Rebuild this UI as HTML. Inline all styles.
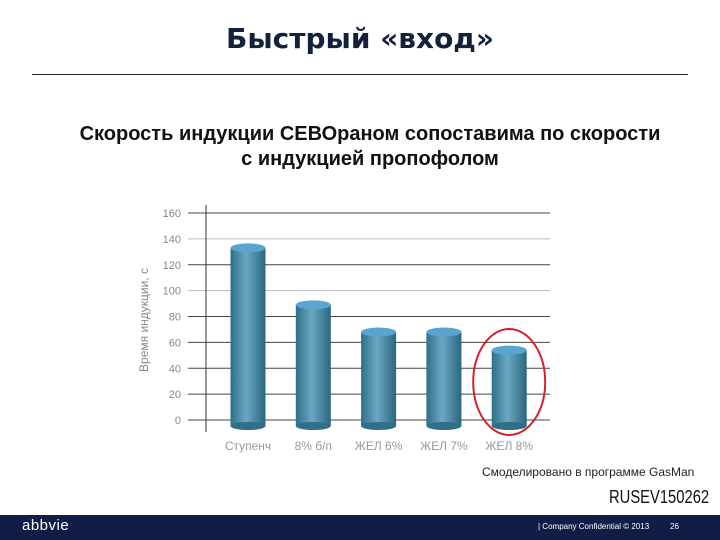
<!DOCTYPE html>
<html><head><meta charset="utf-8"><style>
body{margin:0;width:720px;height:540px;position:relative;background:#fff;font-family:"Liberation Sans",sans-serif;overflow:hidden}
.abs{position:absolute}
</style></head><body>
<div class="abs" style="left:0;width:720px;top:22px;text-align:center;font-size:28px;font-weight:bold;color:#14213d;font-family:'DejaVu Sans','Liberation Sans',sans-serif">Быстрый «вход»</div>
<div class="abs" style="left:32px;top:74px;width:656px;height:1px;background:#222"></div>
<div class="abs" style="left:0;width:740px;top:122px;text-align:center;font-size:20px;font-weight:bold;line-height:25px;color:#111">Скорость индукции СЕВОраном сопоставима по скорости<br>с индукцией пропофолом</div>
<svg class="abs" style="left:0;top:0" width="720" height="540">
<defs>
<linearGradient id="cyl" x1="0" x2="1" y1="0" y2="0">
<stop offset="0" stop-color="#2f6f88"/><stop offset="0.45" stop-color="#6aa8c2"/><stop offset="1" stop-color="#2a6680"/>
</linearGradient>
</defs>
<g id="grid"></g><g id="bars"></g>
</svg>
<div class="abs" style="left:482px;top:465px;font-size:12px;color:#222">Смоделировано в программе GasMan</div>
<div class="abs" style="left:609px;top:487px;font-size:18px;color:#111;transform:scaleX(0.82);transform-origin:left top;white-space:nowrap">RUSEV150262</div>
<div class="abs" style="left:0;top:515px;width:720px;height:25px;background:#0f1d47"></div>
<div class="abs" style="left:22px;top:517px;font-size:15px;color:#fff;letter-spacing:0.5px">abbvie</div>
<div class="abs" style="left:538px;top:522px;font-size:8px;color:#fff">| Company Confidential © 2013</div>
<div class="abs" style="left:670px;top:522px;font-size:8px;color:#fff">26</div>
<script>
const categories=["Ступенч","8% б/п","ЖЕЛ 6%","ЖЕЛ 7%","ЖЕЛ 8%"];
const values=[133,89,68,68,54];
const ticks=[0,20,40,60,80,100,120,140,160];
const NS="http://www.w3.org/2000/svg";
const y0=420,y1=213,vmax=160;
const yScale=v=>y0-(v/vmax)*(y0-y1);
const xScale=i=>248+i*65.3;
const grid=document.getElementById('grid'),bars=document.getElementById('bars');
function mk(t,a,p){const e=document.createElementNS(NS,t);for(const k in a)e.setAttribute(k,a[k]);p.appendChild(e);return e;}
ticks.forEach(t=>{
 const y=yScale(t);
 const l=mk('line',{x1:188,x2:550,y1:y,y2:y,stroke:(t==140||t==100)?'#bbb':'#444','stroke-width':1},grid);
 
 
 const tx=mk('text',{x:181,y:y+4,'text-anchor':'end','font-size':11,fill:'#888','font-family':'Liberation Sans'},grid);
 tx.textContent=t;
 
 
});
const ax=mk('line',{x1:206,x2:206,y1:205,y2:432,stroke:'#333','stroke-width':1},grid);


const yt=mk('text',{x:0,y:0,transform:'translate(148,320) rotate(-90)','text-anchor':'middle','font-size':12,fill:'#888','font-family':'Liberation Sans'},grid);
yt.textContent='Время индукции, с';


values.forEach((v,i)=>{
 const cx=xScale(i),w=35,top=yScale(v),bot=426;
 const g=mk('g',{},bars);
 
 
 mk('rect',{x:cx-w/2,y:top,width:w,height:bot-top,fill:'url(#cyl)'},g);
 mk('ellipse',{cx:cx,cy:bot,rx:w/2,ry:4,fill:'#2f6f88'},g);
 mk('ellipse',{cx:cx,cy:top,rx:w/2,ry:4.5,fill:'#5aa5cf'},g);
 const lb=mk('text',{x:cx,y:450,'text-anchor':'middle','font-size':12,fill:'#999','font-family':'Liberation Sans'},bars);
 lb.textContent=categories[i];
 
 
});
const hi=mk('ellipse',{cx:xScale(4),cy:382,rx:36,ry:53,fill:'none',stroke:'#d0242c','stroke-width':2},bars);


</script>
</body></html>
